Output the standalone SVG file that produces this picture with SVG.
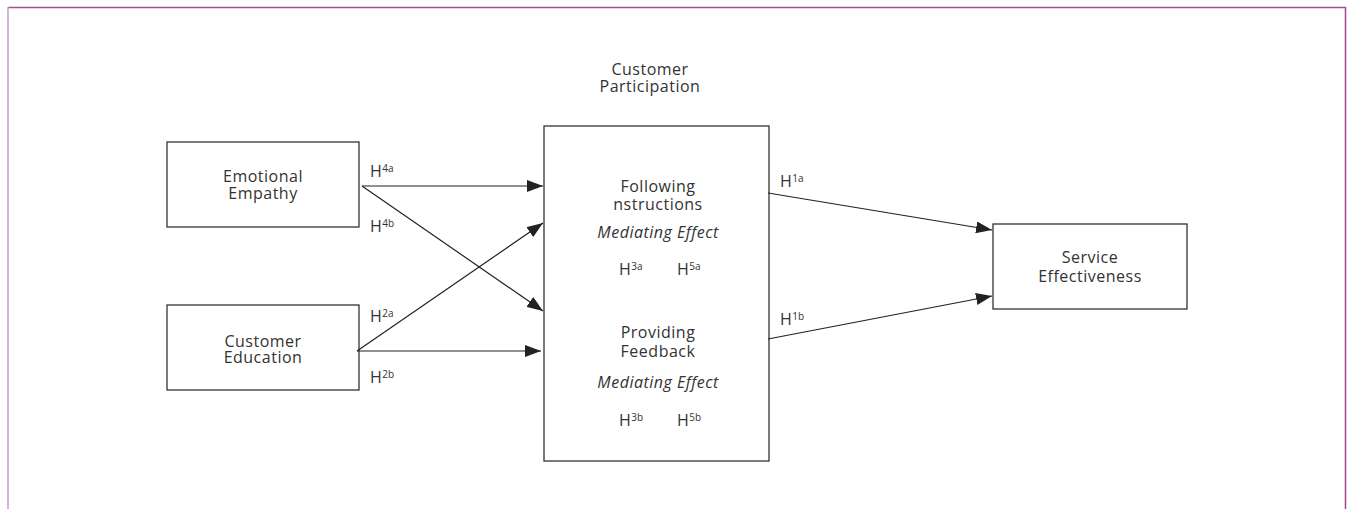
<svg xmlns="http://www.w3.org/2000/svg" width="1347" height="509" viewBox="0 0 1347 509">
<style>
.box{fill:#fff;stroke:#333;stroke-width:1.3}
.t{font-family:"Open Sans","Liberation Sans",sans-serif;font-size:16px;fill:#333;letter-spacing:0.5px}
.c{text-anchor:middle}
.i{font-style:italic}
.sup{font-size:10px;letter-spacing:0}
.con{stroke:#222;stroke-width:1.2;fill:none;marker-end:url(#arr)}
</style>
<defs>
<marker id="arr" markerUnits="userSpaceOnUse" markerWidth="18" markerHeight="12" refX="16" refY="6" orient="auto">
<path d="M0,0 L16,6 L0,12 Z" fill="#222"/>
</marker>
</defs>
<rect width="1347" height="509" fill="#fff"/>
<g id="frame">
<line x1="8" y1="7.5" x2="1346" y2="7.5" stroke="#a3518a" stroke-width="1.3"/>
<line x1="8" y1="7" x2="8" y2="509" stroke="#c89cc6" stroke-width="1.5"/>
<line x1="1345.5" y1="7" x2="1345.5" y2="509" stroke="#a3458f" stroke-width="1.5"/>
</g>
<g id="emotional-empathy">
<rect class="box" x="167" y="142" width="192" height="85"/>
<text class="t c" x="263" y="182">Emotional</text>
<text class="t c" x="263" y="199">Empathy</text>
</g>
<g id="customer-education">
<rect class="box" x="167" y="305" width="192" height="85"/>
<text class="t c" x="263" y="347">Customer</text>
<text class="t c" x="263" y="363">Education</text>
</g>
<g id="customer-participation">
<text class="t c" x="650" y="75">Customer</text>
<text class="t c" x="650" y="92">Participation</text>
<rect class="box" x="544" y="126" width="225" height="335"/>
<text class="t c" x="658" y="192">Following</text>
<text class="t c" x="658" y="210">nstructions</text>
<text class="t c i" x="658" y="238">Mediating Effect</text>
<text class="t" x="619" y="275">H<tspan class="sup" dy="-5">3a</tspan></text>
<text class="t" x="677" y="275">H<tspan class="sup" dy="-5">5a</tspan></text>
<text class="t c" x="658" y="338">Providing</text>
<text class="t c" x="658" y="357">Feedback</text>
<text class="t c i" x="658" y="388">Mediating Effect</text>
<text class="t" x="619" y="426">H<tspan class="sup" dy="-5">3b</tspan></text>
<text class="t" x="677" y="426">H<tspan class="sup" dy="-5">5b</tspan></text>
</g>
<g id="service-effectiveness">
<rect class="box" x="993" y="224" width="194" height="85"/>
<text class="t c" x="1090" y="263">Service</text>
<text class="t c" x="1090" y="282">Effectiveness</text>
</g>
<g id="connectors">
<line class="con" x1="362" y1="186" x2="543" y2="186"/>
<line class="con" x1="362" y1="186" x2="543" y2="311"/>
<line class="con" x1="357" y1="351" x2="543" y2="223"/>
<line class="con" x1="357" y1="351" x2="541" y2="351"/>
<line class="con" x1="768" y1="193" x2="992" y2="230"/>
<line class="con" x1="768" y1="339" x2="992" y2="296"/>
</g>
<g id="labels">
<text class="t" x="370" y="177">H<tspan class="sup" dy="-5">4a</tspan></text>
<text class="t" x="370" y="232">H<tspan class="sup" dy="-5">4b</tspan></text>
<text class="t" x="370" y="322">H<tspan class="sup" dy="-5">2a</tspan></text>
<text class="t" x="370" y="383">H<tspan class="sup" dy="-5">2b</tspan></text>
<text class="t" x="780" y="187">H<tspan class="sup" dy="-5">1a</tspan></text>
<text class="t" x="780" y="325">H<tspan class="sup" dy="-5">1b</tspan></text>
</g>
</svg>
